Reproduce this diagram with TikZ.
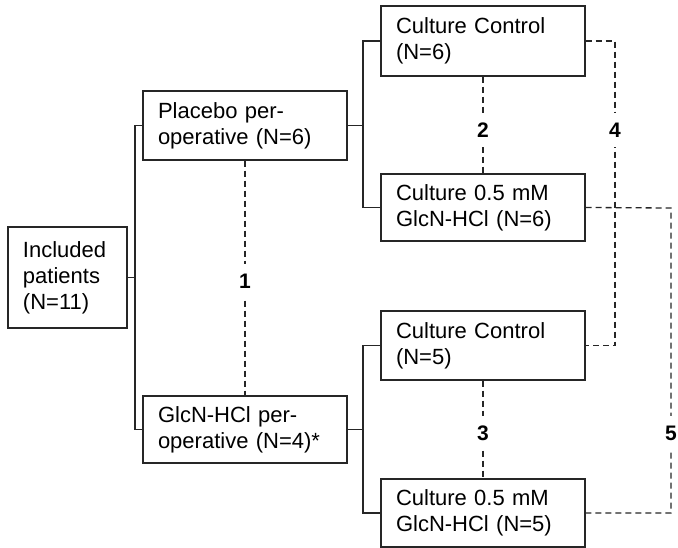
\documentclass[tikz,border=0pt]{standalone}
\usepackage{fontspec}
\setmainfont{Liberation Sans}
\begin{document}
\begin{tikzpicture}[x=1pt,y=-1pt,
  box/.style={draw=black!85, line width=1.3pt, rectangle, minimum width=204pt, minimum height=69pt,
    text width=174pt, inner xsep=15pt, inner ysep=0pt, align=left, font=\fontsize{22}{26}\selectfont},
  solidline/.style={draw=black!85, line width=1.3pt},
  dsh/.style={draw=black!85, line width=1.3pt, dash pattern=on 6pt off 4pt},
  lbl/.style={fill=white, inner xsep=2pt, inner ysep=10pt, font=\fontsize{21}{24}\selectfont\bfseries}]
\useasboundingbox (0,0) rectangle (678,548);
% boxes
\node[box, minimum width=119pt, minimum height=101pt, text width=89pt] (inc) at (67.5,277.5) {Included\\patients\\(N=11)};
\node[box] (plc) at (245,125.5) {Placebo per-\\operative (N=6)};
\node[box, minimum height=67pt] (glc) at (245,429.5) {GlcN-HCl per-\\operative (N=4)*};
\node[box, minimum height=70pt] (cc6) at (483,41) {Culture Control\\(N=6)};
\node[box, minimum height=67pt] (cg6) at (483,207.5) {Culture 0.5 mM\\GlcN-HCl (N=6)};
\node[box] (cc5) at (483,345.5) {Culture Control\\(N=5)};
\node[box, minimum height=68pt] (cg5) at (483,513) {Culture 0.5 mM\\GlcN-HCl (N=5)};
% branch points
\coordinate (b1) at (135,277.5);
\coordinate (b2) at (363,125.5);
\coordinate (b3) at (363,429.5);
% solid tree connectors
\draw[solidline] (inc.east) -- (b1);
\draw[solidline] (plc.west) -| (b1) |- (glc.west);
\draw[solidline] (plc.east) -- (b2);
\draw[solidline] (cc6.west) -| (b2) |- (cg6.west);
\draw[solidline] (glc.east) -- (b3);
\draw[solidline] (cc5.west) -| (b3) |- (cg5.west);
% dashed comparisons
\coordinate (c4) at (615,41);
\coordinate (c5) at (671,208);
\draw[dsh] (plc.south) -- (glc.north);
\draw[dsh] (cc6.south) -- (cg6.north);
\draw[dsh] (cc5.south) -- (cg5.north);
\draw[dsh] (cc6.east) -- (c4) |- (cc5.east);
\draw[dsh] (cg6.east) -- (c5) |- (cg5.east);
% labels
\node[lbl] (l1) at (245,281) {1};
\node[lbl] (l2) at (483,130) {2};
\node[lbl] (l3) at (483,433) {3};
\node[lbl] (l4) at (615,130) {4};
\node[lbl] (l5) at (671,433) {5};
\end{tikzpicture}
\end{document}
